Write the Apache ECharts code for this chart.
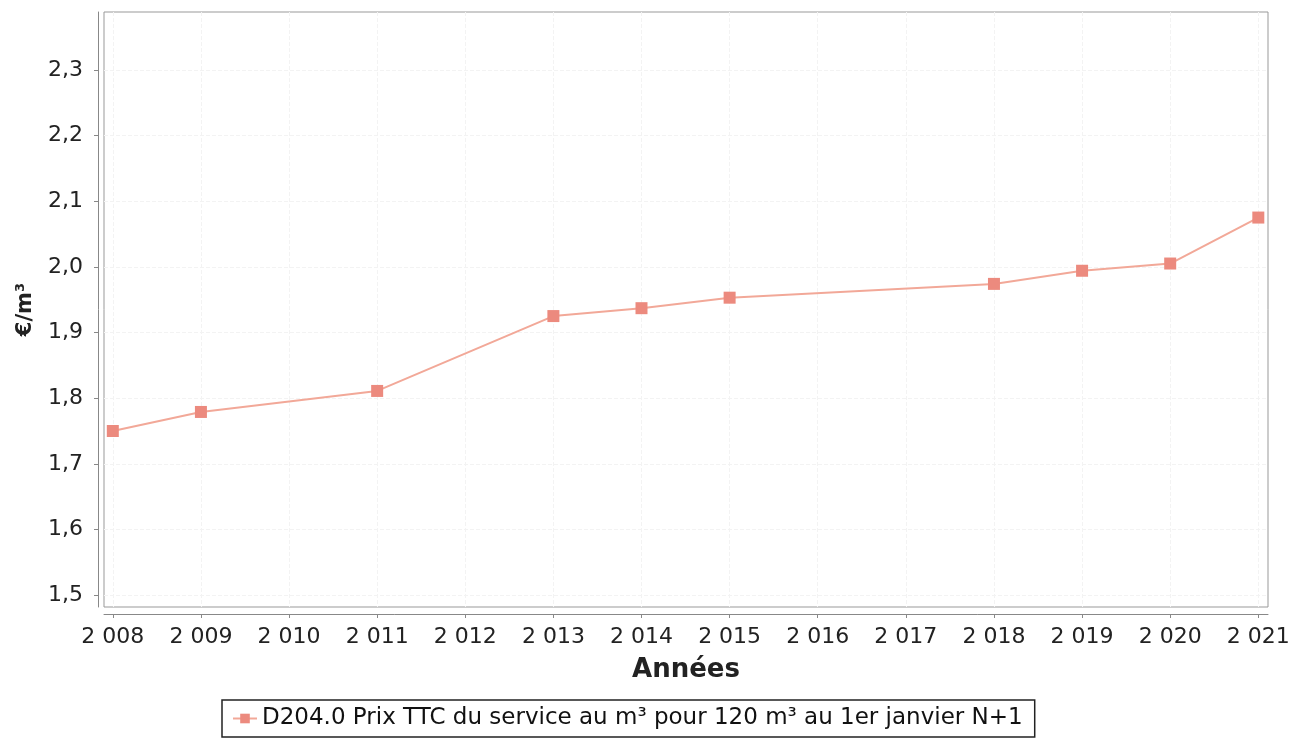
<!DOCTYPE html>
<html>
<head>
<meta charset="utf-8">
<script src="https://cdn.jsdelivr.net/npm/echarts@6/dist/echarts.min.js"></script>
<style>html,body{margin:0;padding:0;background:#fff;}#c{width:1306px;height:740px;}</style>
</head>
<body>
<div id="c"></div>
<script>
const years = [2008, 2009, 2011, 2013, 2014, 2015, 2018, 2019, 2020, 2021];
const prices = [1.750, 1.779, 1.811, 1.925, 1.937, 1.953, 1.974, 1.994, 2.005, 2.075];
const xTicks = [2008, 2009, 2010, 2011, 2012, 2013, 2014, 2015, 2016, 2017, 2018, 2019, 2020, 2021];
const yTicks = [1.5, 1.6, 1.7, 1.8, 1.9, 2.0, 2.1, 2.2, 2.3];
const seriesName = 'D204.0 Prix TTC du service au m³ pour 120 m³ au 1er janvier N+1';

const chart = echarts.init(document.getElementById('c'));
const fmtYear = v => { const s = String(Math.round(v)); return s[0] + ' ' + s.slice(1); };
chart.setOption({
  animation: false,
  textStyle: { fontFamily: 'DejaVu Sans' },
  grid: { left: 104, right: 38, top: 12, bottom: 133, show: true, borderColor: '#999', borderWidth: 1, outerBoundsMode: 'none', containLabel: false },
  xAxis: {
    type: 'value', min: 2007.9, max: 2021.11, offset: 7,
    name: 'Années', nameLocation: 'middle', nameGap: 43,
    nameTextStyle: { fontSize: 26, fontWeight: 'bold', color: '#222' },
    axisLine: { show: true, lineStyle: { color: '#888' } },
    axisTick: { show: true, customValues: xTicks, length: 4, lineStyle: { color: '#888' } },
    axisLabel: { customValues: xTicks, formatter: fmtYear, fontSize: 22, color: '#222', margin: 12 },
    splitLine: { show: true, lineStyle: { color: '#f3f3f3', type: 'dashed' } }
  },
  yAxis: {
    type: 'value', min: 1.482, max: 2.388, offset: 6,
    name: '€/m³', nameLocation: 'middle', nameGap: 62,
    nameTextStyle: { fontSize: 21, fontWeight: 'bold', color: '#222' },
    axisLine: { show: true, lineStyle: { color: '#888' } },
    axisTick: { show: true, customValues: yTicks, length: 4, lineStyle: { color: '#888' } },
    axisLabel: { customValues: yTicks, formatter: v => v.toFixed(1).replace('.', ','), fontSize: 22, color: '#222', margin: 15 },
    splitLine: { show: true, lineStyle: { color: '#f3f3f3', type: 'dashed' } }
  },
  legend: {
    top: 700, left: 222,
    data: [seriesName],
    borderColor: '#222', borderWidth: 1.5, padding: [7, 12, 7, 10],
    itemWidth: 24, itemHeight: 12, itemGap: 6,
    textStyle: { fontSize: 23, color: '#111' }
  },
  series: [{
    name: seriesName, type: 'line',
    data: years.map((y, i) => [y, prices[i]]),
    symbol: 'rect', symbolSize: 12,
    itemStyle: { color: '#ec8a7e' },
    lineStyle: { color: '#f2a898', width: 2 }
  }]
});
</script>
</body>
</html>
